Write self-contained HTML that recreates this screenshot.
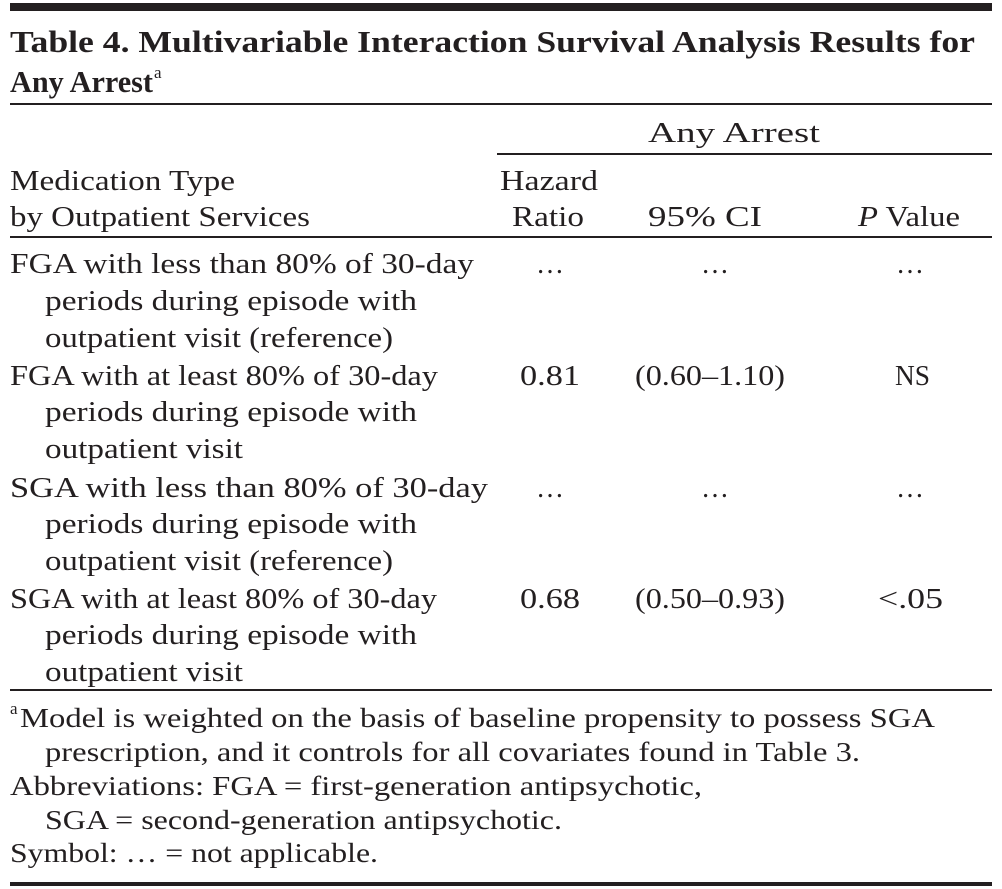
<!DOCTYPE html>
<html><head><meta charset="utf-8"><style>
html,body{margin:0;padding:0;background:#fff;}
svg{display:block}
text{font-family:"Liberation Serif",serif;fill:#231f20;font-size:28px}
.t{font-weight:bold;font-size:31px}
.f{font-size:27px}
.s{font-size:17px}
</style></head><body>
<svg width="1002" height="889" viewBox="0 0 1002 889" xmlns="http://www.w3.org/2000/svg">
<rect x="10" y="3" width="982" height="8" fill="#231f20"/>
<text class="t" x="10" y="52" textLength="965" lengthAdjust="spacingAndGlyphs">Table 4. Multivariable Interaction Survival Analysis Results for</text>
<text class="t" x="10" y="92" textLength="143" lengthAdjust="spacingAndGlyphs">Any Arrest</text>
<text class="s" x="154" y="78">a</text>
<rect x="10" y="103" width="982" height="2" fill="#231f20"/>
<text x="648" y="142" textLength="172" lengthAdjust="spacingAndGlyphs">Any Arrest</text>
<rect x="497" y="153" width="495" height="2" fill="#231f20"/>
<text x="10" y="190" textLength="225" lengthAdjust="spacingAndGlyphs">Medication Type</text>
<text x="10" y="226" textLength="300" lengthAdjust="spacingAndGlyphs">by Outpatient Services</text>
<text x="500" y="190" textLength="98" lengthAdjust="spacingAndGlyphs">Hazard</text>
<text x="512" y="226" textLength="72" lengthAdjust="spacingAndGlyphs">Ratio</text>
<text x="648" y="226" textLength="114" lengthAdjust="spacingAndGlyphs">95% CI</text>
<text x="858" y="226" textLength="102" lengthAdjust="spacingAndGlyphs"><tspan font-style="italic">P</tspan> Value</text>
<rect x="10" y="236" width="982" height="2" fill="#231f20"/>

<text x="10" y="273" textLength="464" lengthAdjust="spacingAndGlyphs">FGA with less than 80% of 30-day</text>
<text x="45" y="310" textLength="372" lengthAdjust="spacingAndGlyphs">periods during episode with</text>
<text x="45" y="347" textLength="348" lengthAdjust="spacingAndGlyphs">outpatient visit (reference)</text>
<text x="550" y="273" text-anchor="middle">…</text><text x="715" y="273" text-anchor="middle">…</text><text x="910" y="273" text-anchor="middle">…</text>

<text x="10" y="385" textLength="428" lengthAdjust="spacingAndGlyphs">FGA with at least 80% of 30-day</text>
<text x="45" y="421" textLength="372" lengthAdjust="spacingAndGlyphs">periods during episode with</text>
<text x="45" y="458" textLength="198" lengthAdjust="spacingAndGlyphs">outpatient visit</text>
<text x="520" y="385" textLength="60" lengthAdjust="spacingAndGlyphs">0.81</text>
<text x="635" y="385" textLength="150" lengthAdjust="spacingAndGlyphs">(0.60–1.10)</text>
<text x="895" y="385" textLength="35" lengthAdjust="spacingAndGlyphs">NS</text>

<text x="10" y="497" textLength="478" lengthAdjust="spacingAndGlyphs">SGA with less than 80% of 30-day</text>
<text x="45" y="533" textLength="372" lengthAdjust="spacingAndGlyphs">periods during episode with</text>
<text x="45" y="570" textLength="348" lengthAdjust="spacingAndGlyphs">outpatient visit (reference)</text>
<text x="550" y="497" text-anchor="middle">…</text><text x="715" y="497" text-anchor="middle">…</text><text x="910" y="497" text-anchor="middle">…</text>

<text x="10" y="608" textLength="427" lengthAdjust="spacingAndGlyphs">SGA with at least 80% of 30-day</text>
<text x="45" y="644" textLength="372" lengthAdjust="spacingAndGlyphs">periods during episode with</text>
<text x="45" y="681" textLength="198" lengthAdjust="spacingAndGlyphs">outpatient visit</text>
<text x="520" y="608" textLength="60" lengthAdjust="spacingAndGlyphs">0.68</text>
<text x="635" y="608" textLength="150" lengthAdjust="spacingAndGlyphs">(0.50–0.93)</text>
<text x="878" y="608" textLength="65" lengthAdjust="spacingAndGlyphs">&lt;.05</text>
<rect x="10" y="689" width="982" height="2" fill="#231f20"/>

<text class="s" x="10" y="714">a</text>
<text class="f" x="20" y="727" textLength="915" lengthAdjust="spacingAndGlyphs">Model is weighted on the basis of baseline propensity to possess SGA</text>
<text class="f" x="45" y="761" textLength="815" lengthAdjust="spacingAndGlyphs">prescription, and it controls for all covariates found in Table 3.</text>
<text class="f" x="10" y="795" textLength="692" lengthAdjust="spacingAndGlyphs">Abbreviations: FGA = first-generation antipsychotic,</text>
<text class="f" x="45" y="829" textLength="517" lengthAdjust="spacingAndGlyphs">SGA = second-generation antipsychotic.</text>
<text class="f" x="10" y="862" textLength="368" lengthAdjust="spacingAndGlyphs">Symbol: … = not applicable.</text>
<rect x="10" y="882" width="982" height="4" fill="#231f20"/>
</svg>
</body></html>
